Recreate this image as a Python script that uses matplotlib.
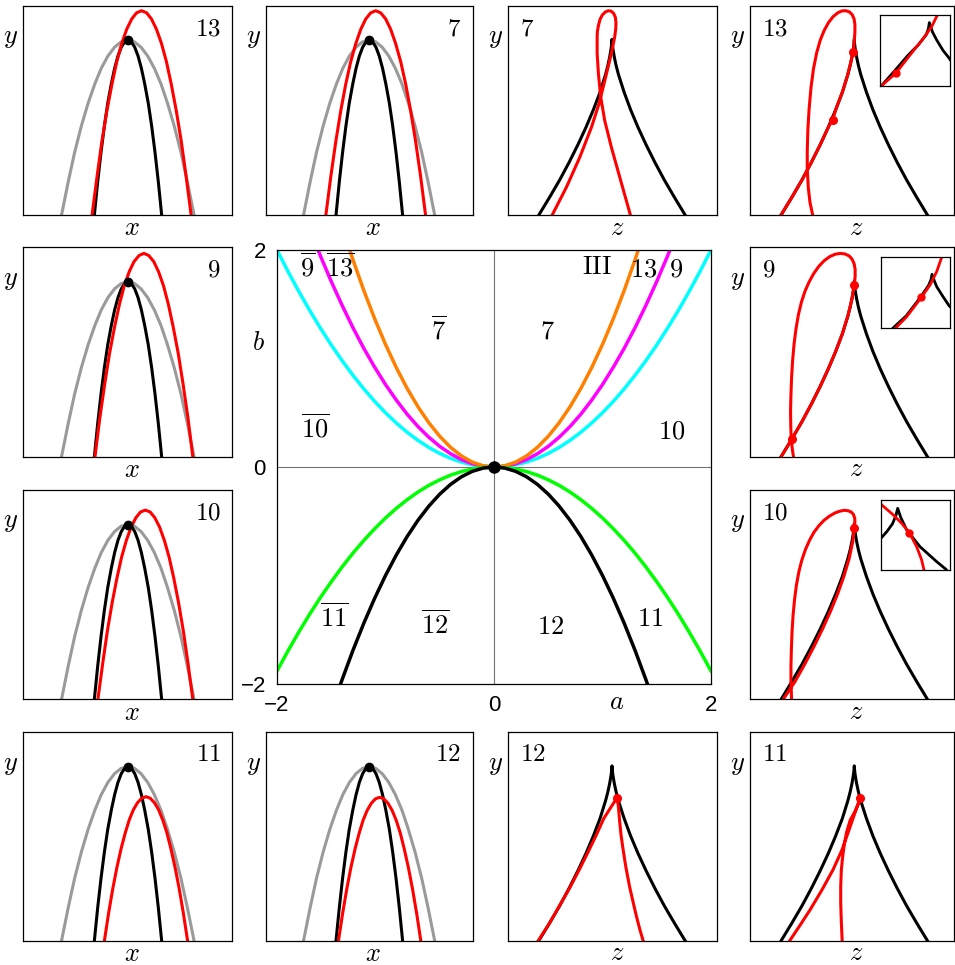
import matplotlib
matplotlib.use("Agg")
import matplotlib.pyplot as plt

plt.rcParams["mathtext.fontset"] = "cm"
plt.rcParams["font.family"] = ["Liberation Sans", "DejaVu Sans"]
plt.rcParams["axes.linewidth"] = 0.9

W, H = 955, 965

# ---------------- central (a, b) plane ----------------
a_vals = [-2.0, -1.9, -1.8, -1.7, -1.6, -1.5, -1.4, -1.3, -1.2, -1.1, -1.0,
          -0.9, -0.8, -0.7, -0.6, -0.5, -0.4, -0.3, -0.2, -0.1, 0.0,
          0.1, 0.2, 0.3, 0.4, 0.5, 0.6, 0.7, 0.8, 0.9, 1.0,
          1.1, 1.2, 1.3, 1.4, 1.5, 1.6, 1.7, 1.8, 1.9, 2.0]
b_cyan = [2.0, 1.805, 1.62, 1.445, 1.28, 1.125, 0.98, 0.845, 0.72, 0.605, 0.5,
          0.405, 0.32, 0.245, 0.18, 0.125, 0.08, 0.045, 0.02, 0.005, 0.0,
          0.005, 0.02, 0.045, 0.08, 0.125, 0.18, 0.245, 0.32, 0.405, 0.5,
          0.605, 0.72, 0.845, 0.98, 1.125, 1.28, 1.445, 1.62, 1.805, 2.0]
b_magenta = [3.04, 2.744, 2.462, 2.196, 1.946, 1.71, 1.490, 1.284, 1.094, 0.920, 0.76,
             0.616, 0.486, 0.372, 0.274, 0.19, 0.122, 0.068, 0.030, 0.008, 0.0,
             0.008, 0.030, 0.068, 0.122, 0.19, 0.274, 0.372, 0.486, 0.616, 0.76,
             0.920, 1.094, 1.284, 1.490, 1.71, 1.946, 2.196, 2.462, 2.744, 3.04]
b_orange = [4.52, 4.079, 3.661, 3.266, 2.893, 2.543, 2.215, 1.910, 1.627, 1.367, 1.13,
            0.915, 0.723, 0.554, 0.407, 0.283, 0.181, 0.102, 0.045, 0.011, 0.0,
            0.011, 0.045, 0.102, 0.181, 0.283, 0.407, 0.554, 0.723, 0.915, 1.13,
            1.367, 1.627, 1.910, 2.215, 2.543, 2.893, 3.266, 3.661, 4.079, 4.52]
b_green = [-1.88, -1.697, -1.523, -1.358, -1.203, -1.058, -0.921, -0.794, -0.677, -0.569, -0.47,
           -0.381, -0.301, -0.230, -0.169, -0.118, -0.075, -0.042, -0.019, -0.005, 0.0,
           -0.005, -0.019, -0.042, -0.075, -0.118, -0.169, -0.230, -0.301, -0.381, -0.47,
           -0.569, -0.677, -0.794, -0.921, -1.058, -1.203, -1.358, -1.523, -1.697, -1.88]
b_black = [-4.0, -3.61, -3.24, -2.89, -2.56, -2.25, -1.96, -1.69, -1.44, -1.21, -1.0,
           -0.81, -0.64, -0.49, -0.36, -0.25, -0.16, -0.09, -0.04, -0.01, 0.0,
           -0.01, -0.04, -0.09, -0.16, -0.25, -0.36, -0.49, -0.64, -0.81, -1.0,
           -1.21, -1.44, -1.69, -1.96, -2.25, -2.56, -2.89, -3.24, -3.61, -4.0]

region_labels = [r"$\overline{9}$", r"$\overline{13}$", r"$\mathrm{III}$", "$13$", "$9$",
                 r"$\overline{7}$", "$7$", r"$\overline{10}$", "$10$",
                 r"$\overline{11}$", r"$\overline{12}$", "$12$", "$11$"]
region_a = [-1.72, -1.42, 0.95, 1.38, 1.68, -0.51, 0.49, -1.65, 1.64, -1.47, -0.54, 0.52, 1.44]
region_b = [1.754, 1.754, 1.776, 1.754, 1.754, 1.18, 1.18, 0.274, 0.264,
            -1.47, -1.54, -1.54, -1.47]

# ---------------- (x, y) profiles ----------------
gray_x = [0.183, 0.215, 0.246, 0.278, 0.310, 0.342, 0.373, 0.405, 0.437, 0.468, 0.500,
          0.532, 0.563, 0.595, 0.627, 0.659, 0.690, 0.722, 0.754, 0.785, 0.817]
black_x = [0.340, 0.356, 0.372, 0.388, 0.404, 0.421, 0.437, 0.453, 0.469, 0.485, 0.501,
           0.517, 0.533, 0.549, 0.565, 0.581, 0.598, 0.614, 0.630, 0.646, 0.662]
base_y = [0, 0.159, 0.301, 0.426, 0.534, 0.626, 0.701, 0.760, 0.802, 0.827, 0.835,
          0.827, 0.802, 0.760, 0.701, 0.626, 0.534, 0.426, 0.301, 0.159, 0]
apex = (0.501, 0.835)

red_x_13 = [0.329, 0.353, 0.376, 0.400, 0.424, 0.447, 0.471, 0.495, 0.519, 0.542, 0.566,
            0.590, 0.613, 0.637, 0.661, 0.685, 0.708, 0.732, 0.756, 0.779, 0.803]
red_y_13 = [0, 0.185, 0.351, 0.498, 0.625, 0.732, 0.820, 0.888, 0.937, 0.966, 0.976,
            0.966, 0.937, 0.888, 0.820, 0.732, 0.625, 0.498, 0.351, 0.185, 0]
red_x_7 = [0.291, 0.315, 0.339, 0.363, 0.387, 0.411, 0.436, 0.460, 0.484, 0.508, 0.532,
           0.556, 0.580, 0.604, 0.628, 0.653, 0.677, 0.701, 0.725, 0.749, 0.773]
red_y_7 = red_y_13
red_x_9 = [0.343, 0.366, 0.390, 0.413, 0.437, 0.460, 0.483, 0.507, 0.530, 0.554, 0.577,
           0.600, 0.624, 0.647, 0.671, 0.694, 0.717, 0.741, 0.764, 0.788, 0.811]
red_y_9 = [0, 0.184, 0.350, 0.495, 0.621, 0.728, 0.816, 0.884, 0.932, 0.961, 0.971,
           0.961, 0.932, 0.884, 0.816, 0.728, 0.621, 0.495, 0.350, 0.184, 0]
red_x_10 = [0.357, 0.380, 0.402, 0.425, 0.448, 0.470, 0.493, 0.516, 0.539, 0.561, 0.584,
            0.607, 0.629, 0.652, 0.675, 0.698, 0.720, 0.743, 0.766, 0.788, 0.811]
red_y_10 = [0, 0.172, 0.325, 0.461, 0.579, 0.678, 0.759, 0.823, 0.868, 0.895, 0.904,
            0.895, 0.868, 0.823, 0.759, 0.678, 0.579, 0.461, 0.325, 0.172, 0]
red_x_11 = [0.388, 0.408, 0.428, 0.448, 0.468, 0.488, 0.507, 0.527, 0.547, 0.567, 0.587,
            0.607, 0.627, 0.647, 0.667, 0.687, 0.706, 0.726, 0.746, 0.766, 0.786]
red_y_11 = [0, 0.131, 0.249, 0.352, 0.442, 0.518, 0.580, 0.629, 0.663, 0.684, 0.691,
            0.684, 0.663, 0.629, 0.580, 0.518, 0.442, 0.352, 0.249, 0.131, 0]
red_x_12 = [0.352, 0.372, 0.392, 0.412, 0.432, 0.452, 0.471, 0.491, 0.511, 0.531, 0.551,
            0.571, 0.591, 0.611, 0.631, 0.651, 0.670, 0.690, 0.710, 0.730, 0.750]
red_y_12 = [0, 0.131, 0.248, 0.351, 0.440, 0.516, 0.578, 0.626, 0.660, 0.681, 0.688,
            0.681, 0.660, 0.626, 0.578, 0.516, 0.440, 0.351, 0.248, 0.131, 0]

# ---------------- (z, y) sections ----------------
cusp_z = [0.149, 0.200, 0.249, 0.294, 0.336, 0.375, 0.410, 0.442, 0.468, 0.479, 0.488,
          0.495, 0.498, 0.499, 0.500, 0.503, 0.510, 0.519, 0.530, 0.557, 0.588, 0.623,
          0.662, 0.704, 0.749, 0.798, 0.849]
cusp_y = [0, 0.084, 0.168, 0.252, 0.336, 0.420, 0.503, 0.587, 0.671, 0.713, 0.755,
          0.797, 0.822, 0.839, 0.822, 0.797, 0.755, 0.713, 0.671, 0.587, 0.503, 0.420,
          0.336, 0.252, 0.168, 0.084, 0]

zred_z_7 = [0.213, 0.281, 0.345, 0.401, 0.437, 0.469, 0.496, 0.512, 0.517, 0.518, 0.515,
            0.507, 0.495, 0.481, 0.467, 0.453, 0.442, 0.434, 0.429, 0.428, 0.428, 0.434,
            0.445, 0.464, 0.496, 0.536, 0.587]
zred_y_7 = [0, 0.133, 0.276, 0.420, 0.532, 0.660, 0.772, 0.851, 0.890, 0.920, 0.945,
            0.963, 0.974, 0.976, 0.970, 0.956, 0.935, 0.905, 0.875, 0.851, 0.772, 0.676,
            0.564, 0.452, 0.324, 0.181, 0]

zred_z_13 = [0.148, 0.200, 0.249, 0.294, 0.336, 0.375, 0.396, 0.410, 0.442, 0.468, 0.488,
             0.494, 0.499, 0.502, 0.502, 0.498, 0.489, 0.476, 0.459, 0.440, 0.420, 0.398,
             0.376, 0.355, 0.336, 0.319, 0.304, 0.292, 0.283, 0.277, 0.274, 0.274, 0.279,
             0.287, 0.300]
zred_y_13 = [0, 0.084, 0.168, 0.252, 0.336, 0.420, 0.455, 0.503, 0.587, 0.671, 0.755,
             0.780, 0.830, 0.875, 0.910, 0.937, 0.957, 0.970, 0.976, 0.975, 0.966, 0.948,
             0.920, 0.882, 0.835, 0.775, 0.700, 0.610, 0.510, 0.410, 0.308, 0.220, 0.130,
             0.060, 0]
dots_z_13 = [0.396, 0.494]
dots_y_13 = [0.455, 0.780]

zred_z_9 = [0.149, 0.200, 0.249, 0.294, 0.336, 0.375, 0.410, 0.442, 0.468, 0.488, 0.499,
            0.503, 0.503, 0.498, 0.488, 0.474, 0.455, 0.433, 0.408, 0.382, 0.355, 0.330,
            0.305, 0.283, 0.263, 0.246, 0.232, 0.220, 0.211, 0.204, 0.199, 0.196, 0.194,
            0.195, 0.197, 0.202, 0.208]
zred_y_9 = [0, 0.084, 0.168, 0.252, 0.336, 0.420, 0.503, 0.587, 0.671, 0.755, 0.820,
            0.860, 0.895, 0.922, 0.944, 0.959, 0.968, 0.971, 0.967, 0.956, 0.936, 0.910,
            0.875, 0.835, 0.790, 0.738, 0.680, 0.610, 0.540, 0.460, 0.380, 0.300, 0.220,
            0.150, 0.090, 0.040, 0]
dots_z_9 = [0.199, 0.499]
dots_y_9 = [0.085, 0.820]

zred_z_10 = [0.159, 0.215, 0.262, 0.306, 0.347, 0.385, 0.419, 0.449, 0.474, 0.492, 0.499,
             0.502, 0.501, 0.495, 0.484, 0.469, 0.451, 0.430, 0.406, 0.380, 0.354, 0.330,
             0.306, 0.285, 0.265, 0.248, 0.234, 0.222, 0.213, 0.206, 0.201, 0.198, 0.196,
             0.196, 0.199]
zred_y_10 = [0, 0.084, 0.168, 0.252, 0.336, 0.420, 0.503, 0.587, 0.671, 0.755, 0.820,
             0.845, 0.866, 0.883, 0.895, 0.901, 0.903, 0.899, 0.890, 0.875, 0.855, 0.830,
             0.798, 0.760, 0.715, 0.665, 0.610, 0.545, 0.475, 0.400, 0.320, 0.240, 0.160,
             0.080, 0]
dots_z_10 = [0.499]
dots_y_10 = [0.820]

zred_z_12 = [0.146, 0.200, 0.248, 0.296, 0.340, 0.382, 0.422, 0.460, 0.496, 0.524,
             0.530, 0.535, 0.542, 0.550, 0.565, 0.583, 0.600, 0.616, 0.632, 0.648]
zred_y_12 = [0, 0.084, 0.168, 0.252, 0.336, 0.420, 0.503, 0.587, 0.644, 0.687,
             0.640, 0.580, 0.510, 0.452, 0.355, 0.260, 0.185, 0.117, 0.055, 0]
dots_z_12 = [0.524]
dots_y_12 = [0.687]

zred_z_11 = [0.190, 0.240, 0.288, 0.345, 0.397, 0.440, 0.474, 0.507, 0.528,
             0.520, 0.505, 0.480, 0.462, 0.452, 0.443, 0.437, 0.434, 0.434, 0.437, 0.441]
zred_y_11 = [0, 0.075, 0.149, 0.245, 0.340, 0.435, 0.532, 0.628, 0.687,
             0.660, 0.625, 0.580, 0.520, 0.468, 0.400, 0.340, 0.260, 0.181, 0.090, 0]
dots_z_11 = [0.528]
dots_y_11 = [0.687]

# magnified views of the cusp tip
ins13_red_z = [0.033, 0.224, 0.429, 0.620, 0.738, 0.820]
ins13_red_y = [0.009, 0.175, 0.434, 0.670, 0.835, 1.0]
ins13_blk_z = [0.03, 0.2, 0.40, 0.55, 0.62, 0.66, 0.69, 0.705, 0.75, 0.81, 0.9, 0.99, 1.0]
ins13_blk_y = [0.01, 0.2, 0.43, 0.58, 0.67, 0.72, 0.80, 0.892, 0.76, 0.646, 0.5, 0.387, 0.37]
ins13_dot = (0.224, 0.175)

ins9_red_z = [0.221, 0.375, 0.587, 0.712, 0.808, 0.880]
ins9_red_y = [0.0, 0.156, 0.431, 0.607, 0.796, 1.0]
ins9_blk_z = [0.183, 0.37, 0.58, 0.69, 0.725, 0.74, 0.78, 0.808, 0.9, 0.99, 1.0]
ins9_blk_y = [0.0, 0.17, 0.44, 0.60, 0.68, 0.758, 0.65, 0.583, 0.44, 0.308, 0.3]
ins9_dot = (0.587, 0.431)

ins10_red_z = [0.0, 0.183, 0.300, 0.413, 0.519, 0.591, 0.625]
ins10_red_y = [0.943, 0.786, 0.670, 0.533, 0.333, 0.143, 0.0]
ins10_blk_z = [0.0, 0.09, 0.17, 0.22, 0.245, 0.29, 0.375, 0.567, 0.808, 0.942, 0.95]
ins10_blk_y = [0.45, 0.55, 0.66, 0.78, 0.881, 0.75, 0.571, 0.333, 0.119, 0.01, 0.0]
ins10_dot = (0.413, 0.533)

# panel boxes in pixels
COLS = [(23.3, 232.3), (265.7, 472.5), (507.7, 717.3), (750.0, 954.0)]
ROWS = [(5.7, 215.0), (247.3, 456.7), (490.0, 699.3), (732.3, 940.7)]

LW = 2.2
RED = "#ff0000"
GRAY = "#9a9a9a"

fig = plt.figure(figsize=(W / 100, H / 100), dpi=100)


def px_axes(x0, y0, x1, y1):
    return fig.add_axes([x0 / W, 1 - y1 / H, (x1 - x0) / W, (y1 - y0) / H])


def small_panel(row, col, xmax=1.0):
    x0, x1 = COLS[col]
    y0, y1 = ROWS[row]
    ax = px_axes(x0, y0, x1, y1)
    ax.set_xlim(0, xmax)
    ax.set_ylim(0, 1)
    ax.set_xticks([])
    ax.set_yticks([])
    ax.text(-0.06, 0.845, "$y$", transform=ax.transAxes, fontsize=19,
            ha="center", va="center")
    return ax


def xy_panel(row, col, label, rx, ry):
    ax = small_panel(row, col)
    ax.plot(gray_x, base_y, color=GRAY, lw=LW)
    ax.plot(black_x, base_y, color="k", lw=LW)
    ax.plot(rx, ry, color=RED, lw=LW)
    ax.plot(*apex, "o", color="k", ms=6)
    ax.text(0.945, 0.86, "$" + label + "$", transform=ax.transAxes, fontsize=18,
            ha="right", va="baseline")
    ax.text(0.52, -0.064, "$x$", transform=ax.transAxes, fontsize=19,
            ha="center", va="center")
    return ax


def zy_panel(row, col, label, rz, ry, dz, dy):
    xmax = (COLS[col][1] - COLS[col][0]) / 209.0
    ax = small_panel(row, col, xmax)
    ax.plot(cusp_z, cusp_y, color="k", lw=LW)
    ax.plot(rz, ry, color=RED, lw=LW)
    ax.plot(dz, dy, "o", color=RED, ms=5.5, lw=0)
    ax.text(0.06, 0.86, "$" + label + "$", transform=ax.transAxes, fontsize=18,
            ha="left", va="baseline")
    ax.text(0.52, -0.06, "$z$", transform=ax.transAxes, fontsize=19,
            ha="center", va="center")
    return ax


def inset(box, bz, by, rz, ry, dot):
    ax = px_axes(*box)
    ax.set_xlim(0, 1)
    ax.set_ylim(0, 1)
    ax.set_xticks([])
    ax.set_yticks([])
    ax.plot(bz, by, color="k", lw=2.0)
    ax.plot(rz, ry, color=RED, lw=2.0)
    ax.plot(*dot, "o", color=RED, ms=5)


# (x, y) panels
xy_panel(0, 0, "13", red_x_13, red_y_13)
xy_panel(0, 1, "7", red_x_7, red_y_7)
xy_panel(1, 0, "9", red_x_9, red_y_9)
xy_panel(2, 0, "10", red_x_10, red_y_10)
xy_panel(3, 0, "11", red_x_11, red_y_11)
xy_panel(3, 1, "12", red_x_12, red_y_12)

# (z, y) panels
zy_panel(0, 2, "7", zred_z_7, zred_y_7, [], [])
zy_panel(0, 3, "13", zred_z_13, zred_y_13, dots_z_13, dots_y_13)
zy_panel(1, 3, "9", zred_z_9, zred_y_9, dots_z_9, dots_y_9)
zy_panel(2, 3, "10", zred_z_10, zred_y_10, dots_z_10, dots_y_10)
zy_panel(3, 2, "12", zred_z_12, zred_y_12, dots_z_12, dots_y_12)
zy_panel(3, 3, "11", zred_z_11, zred_y_11, dots_z_11, dots_y_11)

inset((880.0, 15.0, 950.0, 85.7), ins13_blk_z, ins13_blk_y, ins13_red_z, ins13_red_y, ins13_dot)
inset((880.7, 257.3, 950.0, 327.7), ins9_blk_z, ins9_blk_y, ins9_red_z, ins9_red_y, ins9_dot)
inset((880.7, 500.0, 950.0, 570.0), ins10_blk_z, ins10_blk_y, ins10_red_z, ins10_red_y, ins10_dot)

# central bifurcation diagram
ax = px_axes(277, 250, 711, 684)
ax.set_xlim(-2, 2)
ax.set_ylim(-2, 2)
ax.axhline(0, color="0.45", lw=0.8, zorder=1)
ax.axvline(0, color="0.45", lw=0.8, zorder=1)
ax.plot(a_vals, b_cyan, color="#00ffff", lw=2.5)
ax.plot(a_vals, b_magenta, color="#ff00ff", lw=2.5)
ax.plot(a_vals, b_orange, color="#ff8000", lw=2.5)
ax.plot(a_vals, b_green, color="#00ff00", lw=2.5)
ax.plot(a_vals, b_black, color="k", lw=2.5)
ax.plot(0, 0, "o", color="k", ms=8, zorder=5)
ax.set_xticks([-2, 0, 2])
ax.set_yticks([-2, 0, 2])
ax.tick_params(axis="both", length=0, labelsize=16)
ax.tick_params(axis="y", pad=8)
ax.tick_params(axis="x", pad=8)
for lab, a, b in zip(region_labels, region_a, region_b):
    ax.text(a, b, lab, fontsize=19, ha="center", va="baseline")
ax.text(-0.043, 0.785, "$b$", transform=ax.transAxes, fontsize=19,
        ha="center", va="center")
ax.text(0.783, -0.041, "$a$", transform=ax.transAxes, fontsize=19,
        ha="center", va="center")

fig.savefig("out.png", dpi=100)
